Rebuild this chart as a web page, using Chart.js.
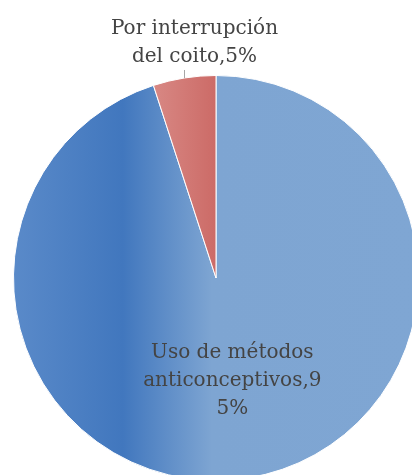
<!DOCTYPE html>
<html lang="es">
<head>
<meta charset="utf-8">
<script src="https://cdn.jsdelivr.net/npm/chart.js@4"></script>
<style>
  html, body { margin: 0; padding: 0; background: #fff; overflow: hidden; width: 412px; height: 475px; }
  #grafico { position: absolute; left: 0; top: 0; }
</style>
</head>
<body>
<canvas id="grafico" width="440" height="560"></canvas>
<script>
const categorias = ['Uso de métodos anticonceptivos', 'Por interrupción del coito'];
const porcentajes = [95, 5];

const fuente = '20px "DejaVu Serif", serif';
const colorTexto = '#444444';

// corta el texto por ancho; si una palabra no cabe, la parte por letras
function partirTexto(ctx, texto, ancho) {
  const palabras = texto.split(' ');
  const lineas = [];
  let actual = '';
  palabras.forEach((p) => {
    const prueba = actual ? actual + ' ' + p : p;
    if (ctx.measureText(prueba).width <= ancho) {
      actual = prueba;
      return;
    }
    if (actual) lineas.push(actual);
    actual = '';
    for (const letra of p) {
      if (ctx.measureText(actual + letra).width > ancho && actual) {
        lineas.push(actual);
        actual = letra;
      } else {
        actual += letra;
      }
    }
  });
  if (actual) lineas.push(actual);
  return lineas;
}

// degradados horizontales estilo Excel
function relleno(context) {
  const chart = context.chart;
  const area = chart.chartArea;
  if (!area) return null;
  const c = chart.ctx;
  const r = (area.right - area.left) / 2;
  const cx = area.left + r;
  if (context.dataIndex === 0) {
    const g = c.createLinearGradient(area.left, 0, area.right, 0);
    g.addColorStop(0, '#5a8ac9');
    g.addColorStop(0.27, '#4177be');
    g.addColorStop(0.49, '#7ea5d2');
    g.addColorStop(1, '#7fa6d3');
    return g;
  }
  const g = c.createLinearGradient(cx - r * 0.31, 0, cx, 0);
  g.addColorStop(0, '#d88884');
  g.addColorStop(1, '#cc6b67');
  return g;
}

const etiquetas = {
  id: 'etiquetas',
  afterDatasetsDraw(chart) {
    const c = chart.ctx;
    const meta = chart.getDatasetMeta(0);
    c.save();
    c.font = fuente;
    c.fillStyle = colorTexto;
    c.textAlign = 'center';
    c.textBaseline = 'middle';
    const alto = 28;
    meta.data.forEach((arco, i) => {
      const { x, y, startAngle, endAngle, outerRadius } = arco.getProps(['x', 'y', 'startAngle', 'endAngle', 'outerRadius'], true);
      const medio = (startAngle + endAngle) / 2;
      const texto = categorias[i] + ',' + porcentajes[i] + '%';
      const lineas = partirTexto(c, texto, 184);
      let lx, y0;
      if (i === 0) {
        lx = x + Math.cos(medio) * outerRadius * 0.515;
        const ly = y + Math.sin(medio) * outerRadius * 0.515;
        y0 = ly - (lineas.length - 1) * alto / 2;
      } else {
        // etiqueta fuera del sector con línea guía
        const px = Math.round(x + Math.cos(medio) * outerRadius) + 0.5;
        const py = y + Math.sin(medio) * outerRadius;
        c.strokeStyle = '#a6a6a6';
        c.lineWidth = 1;
        c.beginPath();
        c.moveTo(px, py);
        c.lineTo(px, py - 8);
        c.stroke();
        lx = px + 10;
        y0 = py - 8 - 13 - (lineas.length - 1) * alto;
      }
      lineas.forEach((l, k) => c.fillText(l, lx, y0 + k * alto));
    });
    c.restore();
  }
};

new Chart(document.getElementById('grafico'), {
  type: 'pie',
  data: {
    labels: categorias,
    datasets: [{
      data: porcentajes,
      backgroundColor: relleno,
      borderColor: '#ffffff',
      borderWidth: 1
    }]
  },
  options: {
    responsive: false,
    animation: false,
    layout: { padding: { left: 13, top: 75, right: 21, bottom: 79 } },
    plugins: {
      legend: { display: false },
      tooltip: { enabled: false }
    }
  },
  plugins: [etiquetas]
});
</script>
</body>
</html>
